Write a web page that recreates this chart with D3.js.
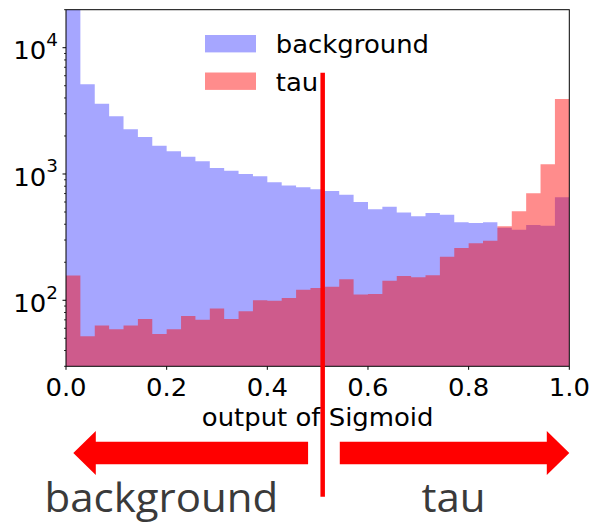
<!DOCTYPE html>
<html>
<head>
<meta charset="utf-8">
<script src="https://cdn.jsdelivr.net/npm/d3@7"></script>
<style>
  html, body { margin: 0; padding: 0; background: #fff; }
  svg { display: block; }
</style>
</head>
<body>
<svg id="chart" width="589" height="523"></svg>
<script>
// Histogram of the Sigmoid output, 35 equal bins on [0, 1]
const binCount = 35;
const backgroundCounts = [32000, 5130, 3605, 2864, 2260, 1963, 1675, 1514, 1371, 1262,
  1117, 1062, 1000, 958, 859, 810, 787, 757, 733, 685,
  600, 525, 551, 495, 462, 491, 476, 415, 410, 415,
  376, 361, 395, 390, 653];
const tauCounts = [157, 52, 63, 59, 63, 71, 54, 59, 75, 70,
  86, 71, 82, 100, 99, 104, 121, 125, 128, 147,
  111, 112, 143, 156, 152, 158, 221, 259, 283, 296,
  385, 506, 703, 1195, 3925];
const seriesNames = ["background", "tau"];
const xTickValues = [0.0, 0.2, 0.4, 0.6, 0.8, 1.0];
const yTickExponents = [2, 3, 4];
const threshold = 0.51;
const xLabel = "output of Sigmoid";

const svg = d3.select("#chart");
const plotLeft = 66, plotRight = 569.3, plotTop = 9.7, plotBottom = 366.3;
const stretch = 1.08;   // horizontal scaling applied to the axis text
const mplFont = "DejaVu Sans";

const x = d3.scaleLinear().domain([0, 1]).range([plotLeft, plotRight]);
const y = d3.scaleLog().domain([30, 20000]).range([plotBottom, plotTop]);

const colors = {
  background: "rgba(0,0,255,0.35)",
  tau: "rgba(255,0,0,0.45)"
};

svg.append("clipPath").attr("id", "plot-clip")
  .append("rect").attr("x", plotLeft).attr("y", plotTop)
  .attr("width", plotRight - plotLeft).attr("height", plotBottom - plotTop);

// Turn counts into step points (bin left edges plus the final right edge)
function steps(counts) {
  const pts = counts.map((v, i) => ({ x0: i / binCount, v }));
  pts.push({ x0: 1, v: counts[counts.length - 1] });
  return pts;
}
const area = d3.area()
  .x(d => x(d.x0))
  .y0(y(30))
  .y1(d => y(d.v))
  .curve(d3.curveStepAfter);

const plot = svg.append("g").attr("clip-path", "url(#plot-clip)");
plot.append("path").datum(steps(backgroundCounts))
  .attr("d", area).attr("fill", colors.background);
plot.append("path").datum(steps(tauCounts))
  .attr("d", area).attr("fill", colors.tau);

// Frame
svg.append("rect")
  .attr("x", plotLeft).attr("y", plotTop)
  .attr("width", plotRight - plotLeft).attr("height", plotBottom - plotTop)
  .attr("fill", "none").attr("stroke", "#000").attr("stroke-width", 1);

// X axis ticks and labels
const xt = svg.append("g");
xTickValues.forEach(v => {
  xt.append("line")
    .attr("x1", x(v)).attr("x2", x(v))
    .attr("y1", plotBottom).attr("y2", plotBottom + 3.5)
    .attr("stroke", "#000").attr("stroke-width", 1);
  xt.append("text")
    .attr("transform", `translate(${x(v)},${plotBottom + 29.5}) scale(${stretch},1)`)
    .attr("text-anchor", "middle")
    .attr("font-family", mplFont).attr("font-size", 24)
    .attr("fill", "#000")
    .text(d3.format(".1f")(v));
});

// Y axis: decades with minor ticks at 2..9
const yt = svg.append("g");
const [yMin, yMax] = y.domain();
for (let e = 1; e <= 4; e++) {
  for (let m = 2; m <= 9; m++) {
    const v = m * Math.pow(10, e);
    if (v < yMin || v > yMax) continue;
    yt.append("line")
      .attr("x1", plotLeft - 2).attr("x2", plotLeft)
      .attr("y1", y(v)).attr("y2", y(v))
      .attr("stroke", "#000").attr("stroke-width", 0.8);
  }
}
yTickExponents.forEach(e => {
  const v = Math.pow(10, e);
  yt.append("line")
    .attr("x1", plotLeft - 3.5).attr("x2", plotLeft)
    .attr("y1", y(v)).attr("y2", y(v))
    .attr("stroke", "#000").attr("stroke-width", 1);
  const t = yt.append("text")
    .attr("transform", `translate(${plotLeft - 8},${y(v) + 11.6}) scale(${stretch},1)`)
    .attr("text-anchor", "end")
    .attr("font-family", mplFont).attr("font-size", 24)
    .attr("fill", "#000");
  t.append("tspan").text("10");
  t.append("tspan").attr("font-size", 17).attr("dy", -13.3).text(String(e));
});

// X axis label
svg.append("text")
  .attr("transform", `translate(${(plotLeft + plotRight) / 2},${plotBottom + 60}) scale(${stretch},1)`)
  .attr("text-anchor", "middle")
  .attr("font-family", mplFont).attr("font-size", 24)
  .attr("fill", "#000")
  .text(xLabel);

// Legend
const legend = svg.append("g");
seriesNames.forEach((name, i) => {
  const cy = 43.7 + i * 37.5;
  legend.append("rect")
    .attr("x", 205).attr("y", cy - 8.7)
    .attr("width", 51).attr("height", 17.4)
    .attr("fill", colors[name]);
  legend.append("text")
    .attr("transform", `translate(275.8,${cy + 9.4}) scale(${stretch},1)`)
    .attr("font-family", mplFont).attr("font-size", 24)
    .attr("fill", "#000")
    .text(name);
});

// Direction arrows below the axis
const arrowY = 453, shaftHalf = 11.3, headHalf = 22, headLen = 22.5;
function arrowPoints(fromPx, tipPx) {
  const dir = Math.sign(tipPx - fromPx);
  const base = tipPx - dir * headLen;
  return [
    [fromPx, arrowY - shaftHalf], [base, arrowY - shaftHalf], [base, arrowY - headHalf],
    [tipPx, arrowY], [base, arrowY + headHalf], [base, arrowY + shaftHalf],
    [fromPx, arrowY + shaftHalf]
  ];
}
const arrows = [
  { from: x(0.481), to: x(0.0145) },
  { from: x(0.544), to: x(1.0) }
];
svg.append("g").selectAll("polygon").data(arrows).join("polygon")
  .attr("points", d => arrowPoints(d.from, d.to).map(p => p.join(",")).join(" "))
  .attr("fill", "#ff0000");

// Class names under the arrows
const bigFont = "'Open Sans', 'Noto Sans', sans-serif";
svg.append("text")
  .attr("transform", `translate(44.5,512) scale(1.05,1)`)
  .attr("font-family", bigFont).attr("font-size", 40)
  .attr("fill", "#3a3a3a")
  .text(seriesNames[0]);
svg.append("text")
  .attr("transform", `translate(421.5,512) scale(1.05,1)`)
  .attr("font-family", bigFont).attr("font-size", 40)
  .attr("fill", "#3a3a3a")
  .text(seriesNames[1]);

// Decision threshold
svg.append("line")
  .attr("x1", x(threshold)).attr("x2", x(threshold))
  .attr("y1", 72.7).attr("y2", 496.7)
  .attr("stroke", "#ff0000").attr("stroke-width", 4.5);
</script>
</body>
</html>
